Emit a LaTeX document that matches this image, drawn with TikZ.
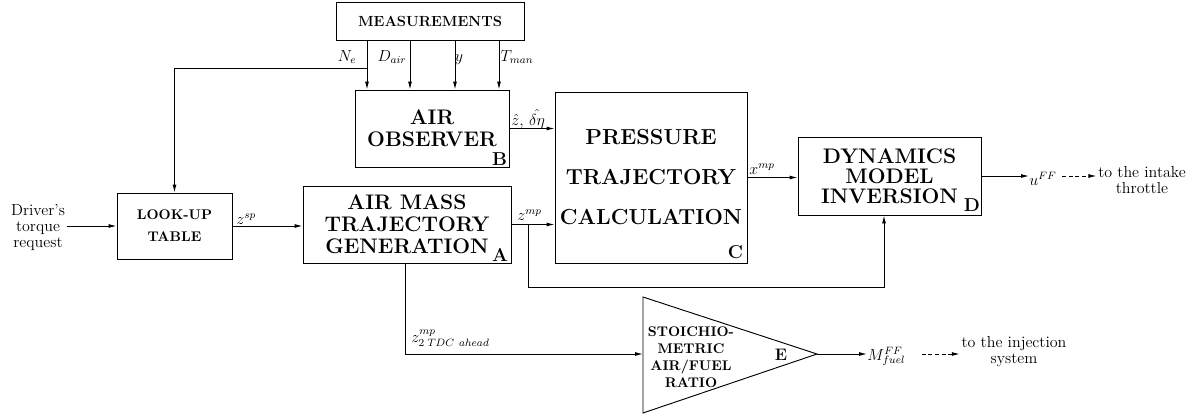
\documentclass[tikz,border=0pt]{standalone}
\usetikzlibrary{arrows.meta,calc}
\newcommand\bigbf{\fontsize{15.8}{16.5}\selectfont\bfseries}
\newcommand\smbf{\fontsize{10.5}{16.5}\selectfont\bfseries}
\begin{document}
\begin{tikzpicture}[x=0.75pt,y=-0.75pt,
  font=\fontsize{12}{12}\selectfont,
  line width=0.7pt,
  >={Latex[length=6pt,width=3pt]},
  blk/.style={draw, align=center, inner sep=0pt},
  lbl/.style={inner sep=0pt},
  tag/.style={inner sep=0pt, font=\fontsize{14}{14}\selectfont\bfseries},
  arr/.style={->},
  darr/.style={->, dash pattern=on 3pt off 2pt}]
\useasboundingbox (0,0) rectangle (1200,418);

% blocks
\node[blk, minimum width=141pt, minimum height=28.5pt, font=\fontsize{11}{13}\selectfont\bfseries] (meas) at (430,21) {MEASUREMENTS};
\node[blk, minimum width=115.5pt, minimum height=57.75pt, font=\bigbf] (obs) at (432,128.5) {AIR\\OBSERVER};
\node[blk, minimum width=144pt, minimum height=128.25pt, font=\fontsize{16.3}{30}\selectfont\bfseries] (ptc) at (651,177.5) {PRESSURE\\TRAJECTORY\\CALCULATION};
\node[blk, minimum width=156pt, minimum height=57.75pt, font=\bigbf] (amt) at (407,224.5) {AIR MASS\\TRAJECTORY\\GENERATION};
\node[blk, minimum width=86.25pt, minimum height=49.5pt, font=\smbf] (lut) at (174.5,226) {LOOK-UP\\TABLE};
\node[blk, minimum width=137.25pt, minimum height=58.5pt, font=\fontsize{15.8}{15}\selectfont\bfseries] (dmi) at (889.5,176) {DYNAMICS\\MODEL\\INVERSION};

% block tags
\node[tag, anchor=south east] (tagA) at ($(amt.south east)+(-3,-2)$) {A};
\node[tag, anchor=south east] (tagB) at ($(obs.south east)+(-2,-2)$) {B};
\node[tag, anchor=south east] (tagC) at ($(ptc.south east)+(-4,-4)$) {C};
\node[tag, anchor=south east] (tagD) at ($(dmi.south east)+(-1,-4)$) {D};

% triangle E
\coordinate (Et) at (643,297);
\coordinate (Eb) at (643,413);
\coordinate (Etip) at (817,354);
\coordinate (Ein) at (643,354);
\draw (Et) -- (Etip) -- (Eb) -- cycle;
\node[align=center, inner sep=0pt, font=\fontsize{10.5}{12.75}\selectfont\bfseries] (etext) at (691,357) {STOICHIO-\\METRIC\\AIR/FUEL\\RATIO};
\node[inner sep=0pt, font=\fontsize{12.5}{12.5}\selectfont\bfseries] (tagE) at (781,355) {E};

% free texts
\node[lbl, align=center, inner sep=1.5pt] (drv) at (38,227) {Driver's\\torque\\request};
\node[lbl, align=center, inner sep=1pt] (intk) at (1142,180) {to the intake\\throttle};
\node[lbl, align=center, inner sep=1pt] (inj) at (1014,352) {to the injection\\system};
\node[lbl, anchor=base west] (uff) at (1029,185) {$u^{FF}$};
\node[lbl, anchor=base west] (mff) at (867,360) {$M^{FF}_{fuel}$};

% labels
\node[lbl, anchor=base] (lNe) at (347,61) {$N_e$};
\node[lbl, anchor=base] (lDair) at (392,61) {$D_{air}$};
\node[lbl, anchor=base] (ly) at (459,61) {$y$};
\node[lbl, anchor=base] (lTman) at (517,61) {$T_{man}$};
\node[lbl, anchor=base west] (lzsp) at (236,224) {$z^{sp}$};
\node[lbl, anchor=base west] (lzhat) at (511,125) {$\hat{z},\,\hat{\delta\eta}$};
\node[lbl, anchor=base west] (lzmp) at (517,220) {$z^{mp}$};
\node[lbl, anchor=base west] (lxmp) at (749,174) {$x^{mp}$};
\node[lbl, anchor=base west] (lz2) at (411,342) {$z^{mp}_{2\;TDC\;\,ahead}$};

% measurement arrows
\coordinate (xa) at (367,0);
\coordinate (xb) at (410,0);
\coordinate (xc) at (455,0);
\coordinate (xd) at (499,0);
\draw[arr] (meas.south -| xa) -- (obs.north -| xa);
\draw[arr] (meas.south -| xb) -- (obs.north -| xb);
\draw[arr] (meas.south -| xc) -- (obs.north -| xc);
\draw[arr] (meas.south -| xd) -- (obs.north -| xd);
\coordinate (na) at (367,68);
\draw[arr] (na) -| (lut.north);

% main flow
\draw[arr] (drv.east |- lut.west) -- (lut.west);
\draw[arr] (lut.east) -- (lut.east -| amt.west);
\draw[arr] (obs.east) -- (obs.east -| ptc.west);
\draw[arr] (amt.east) -- (amt.east -| ptc.west);
\draw[arr] (ptc.east) -- (ptc.east -| dmi.west);
\coordinate (br) at (528,224.5);
\coordinate (fb) at (884,287);
\draw[arr] (br) |- (fb) -- (fb |- dmi.south);
\draw[arr] (dmi.east) -- (dmi.east -| uff.west);
\draw[darr] ($(dmi.east -| uff.east)+(5,0)$) -- (dmi.east -| intk.west);
\coordinate (za) at (405,0);
\draw[arr] (amt.south -| za) |- (Ein);
\draw[arr] (Etip) -- (Etip -| mff.west);
\draw[darr] ($(Etip -| mff.east)+(16,0)$) -- (Etip -| inj.west);
\end{tikzpicture}
\end{document}
